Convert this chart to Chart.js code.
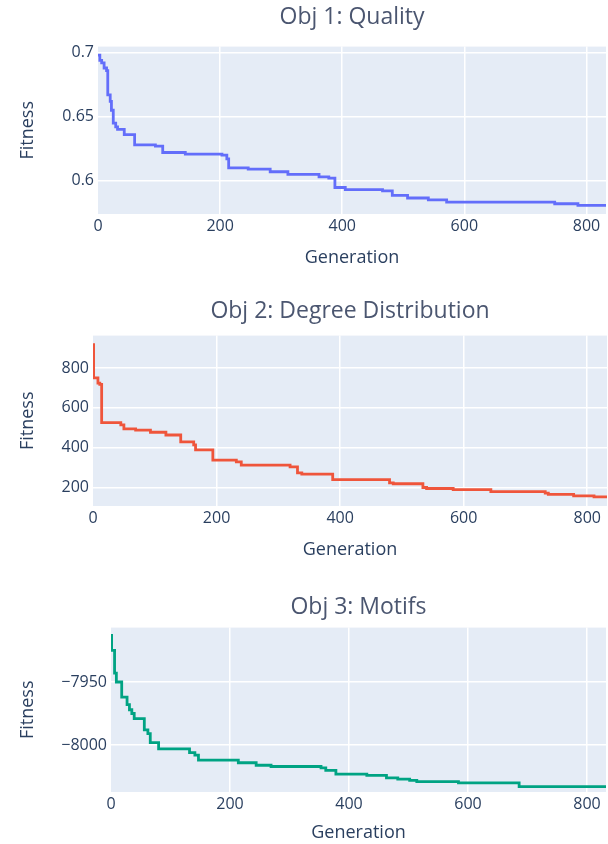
<!DOCTYPE html>
<html>
<head>
<meta charset="utf-8">
<script src="https://cdn.jsdelivr.net/npm/chart.js@4.4.1/dist/chart.umd.min.js"></script>
<style>
  html, body { margin: 0; padding: 0; background: #fff; }
  #wrap { position: relative; width: 608px; height: 844px; }
  .box { position: absolute; left: 0; width: 608px; }
</style>
</head>
<body>
<div id="wrap">
  <div class="box" style="top:0"><canvas id="c1" width="608" height="280"></canvas></div>
  <div class="box" style="top:290px"><canvas id="c2" width="608" height="285"></canvas></div>
  <div class="box" style="top:580px"><canvas id="c3" width="608" height="264"></canvas></div>
</div>
<script>
// generations where the best fitness changes, and the value from there on
const genQuality = [0, 3, 6, 10, 14, 16, 20, 22, 25, 29, 32, 43, 60, 94, 106, 143, 203, 211, 214, 246, 282, 311, 362, 378, 388, 405, 466, 482, 507, 541, 571, 748, 786, 832];
const fitQuality = [0.698, 0.694, 0.692, 0.688, 0.686, 0.667, 0.662, 0.655, 0.645, 0.642, 0.640, 0.636, 0.628, 0.627, 0.622, 0.6207, 0.620, 0.617, 0.610, 0.609, 0.607, 0.605, 0.603, 0.602, 0.5947, 0.5931, 0.592, 0.5885, 0.5865, 0.585, 0.5833, 0.582, 0.5808, 0.5808];

const genDegree = [0, 1, 8, 11, 14, 45, 50, 69, 93, 118, 142, 163, 166, 194, 232, 240, 319, 331, 338, 388, 480, 486, 534, 540, 583, 644, 732, 737, 778, 811, 832];
const fitDegree = [918, 750, 724, 718, 525, 514, 494, 488, 477, 463, 429, 413, 388, 337, 328, 312, 303, 273, 266, 239, 222, 218, 199, 194, 188, 178, 171, 164, 157, 152, 150];

const genMotifs = [0, 1, 6, 9, 18, 27, 31, 35, 39, 56, 62, 66, 80, 132, 141, 147, 214, 244, 269, 353, 361, 378, 430, 463, 482, 502, 514, 584, 686, 832];
const fitMotifs = [-7913, -7925, -7943, -7950, -7962, -7968, -7972, -7975, -7979, -7988, -7991, -7998, -8003, -8006, -8008, -8012, -8014, -8016, -8017, -8018, -8020, -8023, -8024, -8026, -8027, -8028, -8029, -8030, -8033, -8033];

const xTicks = [0, 200, 400, 600, 800];
const yTicksQuality = [0.6, 0.65, 0.7];
const yTicksDegree = [200, 400, 600, 800];
const yTicksMotifs = [-8000, -7950];

const FONT = "'Open Sans', 'Noto Sans', sans-serif";
const TEXT = '#2a3f5f';

// plotly style plot background
const plotBg = {
  id: 'plotBg',
  beforeDraw(chart) {
    const a = chart.chartArea, ctx = chart.ctx;
    ctx.save();
    ctx.fillStyle = '#e5ecf6';
    ctx.fillRect(a.left, a.top, a.right - a.left, a.bottom - a.top);
    ctx.restore();
  }
};

function fitnessChart(id, title, gens, fits, color, yMin, yMax, yTicks, lay) {
  const pts = gens.map((g, i) => ({ x: g, y: fits[i] }));
  return new Chart(document.getElementById(id), {
    type: 'line',
    data: {
      datasets: [{
        data: pts,
        borderColor: color,
        borderWidth: 2.8,
        stepped: true,
        pointRadius: 0,
        fill: false
      }]
    },
    options: {
      responsive: false,
      animation: false,
      layout: { padding: { left: 0, right: lay.right, top: 0, bottom: 0 } },
      plugins: {
        legend: { display: false },
        tooltip: { enabled: false },
        title: {
          display: true,
          text: title,
          fullSize: false,
          color: '#4b5670',
          font: { family: FONT, size: 23, weight: 'normal' },
          padding: { top: lay.titleTop, bottom: lay.titleBottom }
        }
      },
      scales: {
        x: {
          type: 'linear',
          min: 0,
          max: 832,
          afterBuildTicks: s => { s.ticks = xTicks.map(v => ({ value: v })); },
          afterFit: s => { s.height = lay.xHeight; },
          border: { display: false },
          grid: {
            drawTicks: false,
            lineWidth: 1.5,
            color: c => (c.tick && c.tick.value === 0) ? 'rgba(0,0,0,0)' : '#ffffff'
          },
          ticks: {
            autoSkip: false,
            maxRotation: 0,
            padding: 3,
            color: TEXT,
            font: { family: FONT, size: 16 },
            callback: v => String(v)
          },
          title: {
            display: true,
            text: 'Generation',
            color: TEXT,
            font: { family: FONT, size: 18 },
            padding: { top: 4, bottom: lay.genBottom }
          }
        },
        y: {
          min: yMin,
          max: yMax,
          afterBuildTicks: s => { s.ticks = yTicks.map(v => ({ value: v })); },
          afterFit: s => { s.width = lay.left; },
          border: { display: false },
          grid: { drawTicks: false, lineWidth: 1.5, color: '#ffffff' },
          ticks: {
            autoSkip: false,
            padding: 4,
            color: TEXT,
            font: { family: FONT, size: 16 },
            callback: v => String(v).replace('-', '\u2212')
          },
          title: {
            display: true,
            text: 'Fitness',
            color: TEXT,
            font: { family: FONT, size: 18 },
            padding: { top: 17, bottom: 0 }
          }
        }
      }
    },
    plugins: [plotBg]
  });
}

fitnessChart('c1', 'Obj 1: Quality', genQuality, fitQuality, '#636efa', 0.574, 0.7047, yTicksQuality,
  { left: 98, right: 2, titleTop: 4, titleBottom: 15, xHeight: 66, genBottom: 11 });

fitnessChart('c2', 'Obj 2: Degree Distribution', genDegree, fitDegree, '#ef553b', 106, 963, yTicksDegree,
  { left: 93, right: 1, titleTop: 8, titleBottom: 10, xHeight: 69, genBottom: 14 });

fitnessChart('c3', 'Obj 3: Motifs', genMotifs, fitMotifs, '#00a383', -8037.2, -7906.9, yTicksMotifs,
  { left: 111, right: 2, titleTop: 14, titleBottom: 6, xHeight: 52, genBottom: 0 });
</script>
</body>
</html>
